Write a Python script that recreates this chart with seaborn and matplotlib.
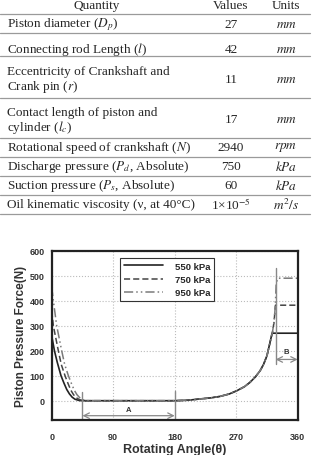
import matplotlib
matplotlib.use('Agg')
import matplotlib.pyplot as plt
import seaborn as sns
from matplotlib.lines import Line2D

# Table data
quantities = [
    ['Piston diameter ($D_p$)'],
    ['Connecting rod Length ($l$)'],
    ['Eccentricity of Crankshaft and', 'Crank pin ($r$)'],
    ['Contact length of piston and', 'cylinder ($l_c$)'],
    ['Rotational speed of crankshaft ($N$)'],
    ['Discharge pressure ($P_d$, Absolute)'],
    ['Suction pressure ($P_s$, Absolute)'],
    ['Oil kinematic viscosity (ν, at 40°C)'],
]
values = ['27', '42', '11', '17', '2940', '750', '60', '1×10$^{-5}$']
units = ['$mm$', '$mm$', '$mm$', '$mm$', '$rpm$', '$kPa$', '$kPa$', '$m^2/s$']

# Curve data (angle in degrees, force in N)
labels = ['550 kPa', '750 kPa', '950 kPa']
angle_550 = [0, 4, 8, 13.6, 18, 22, 26, 30, 34, 40, 44,
             180, 200, 217, 232, 246, 260, 271, 282, 290, 298, 305, 310, 315, 319.5, 322.5, 360]
force_550 = [260, 200, 155, 100, 70, 45, 27, 14, 6, 1, 0,
             0, 2, 7, 11, 17, 27, 40, 56, 73, 95, 120, 145, 180, 233, 270, 270]
angle_750 = [0, 2.4, 9.7, 14, 19.5, 24, 28, 32, 36, 40, 46,
             180, 200, 217, 232, 246, 260, 271, 282, 290, 298, 305, 310, 315, 319.5, 323, 325.3, 327.5, 360]
force_750 = [360, 300, 200, 145, 100, 68, 42, 24, 12, 5, 0,
             0, 2, 7, 11, 17, 27, 40, 56, 73, 95, 120, 145, 180, 233, 273, 313, 382, 382]
angle_950 = [0, 2.4, 7.3, 14.6, 19, 24.4, 29, 33, 37, 41, 45, 50,
             180, 200, 217, 232, 246, 260, 271, 282, 290, 298, 305, 310, 315, 319.5, 323, 325.3, 327.3, 328.5, 331, 360]
force_950 = [455, 400, 300, 200, 145, 100, 68, 42, 24, 12, 5, 0,
             0, 2, 7, 11, 17, 27, 40, 56, 73, 95, 120, 145, 180, 233, 273, 313, 380, 470, 490, 490]

sns.set_style('white')
plt.rcParams['font.family'] = ['Liberation Serif', 'DejaVu Serif']
plt.rcParams['mathtext.fontset'] = 'stix'

W, H = 313, 456
fig = plt.figure(figsize=(W / 100, H / 100), dpi=100)


def fy(py):
    return 1 - py / H


# --- table ---
fs = 9.5
qx, vx, ux = 7 / W, 231 / W, 286 / W
fig.text(97 / W, fy(6), 'Quantity', ha='center', va='center', fontsize=fs)
fig.text(vx, fy(6), 'Values', ha='center', va='center', fontsize=fs)
fig.text(ux, fy(6), 'Units', ha='center', va='center', fontsize=fs)

row_lines = [15, 34, 57, 99, 139, 158, 177, 196, 215]
for py in row_lines:
    fig.add_artist(Line2D([0, 310 / W], [fy(py), fy(py)], color='#9a9a9a', lw=0.9))

row_text_y = [[25], [50], [72, 87], [113, 128], [148], [167], [186], [205]]
row_val_y = [25, 50, 80, 120, 148, 167, 186, 205]
for q, ty, vy, v, u in zip(quantities, row_text_y, row_val_y, values, units):
    for line, py in zip(q, ty):
        fig.text(qx, fy(py), line, ha='left', va='center', fontsize=fs)
    fig.text(vx, fy(vy), v, ha='center', va='center', fontsize=fs)
    fig.text(ux, fy(vy), u, ha='center', va='center', fontsize=fs)

# --- chart ---
left, right, top, bottom = 51.7, 297.7, 251.7, 420.7
ax = fig.add_axes([left / W, fy(bottom), (right - left) / W, (bottom - top) / H])

sans = ['Liberation Sans', 'DejaVu Sans']
sns.lineplot(x=angle_550, y=force_550, ax=ax, color='#222222', lw=1.2,
             estimator=None, sort=False, label=labels[0])
sns.lineplot(x=angle_750, y=force_750, ax=ax, color='#444444', lw=1.1,
             estimator=None, sort=False, label=labels[1])
sns.lineplot(x=angle_950, y=force_950, ax=ax, color='#7a7a7a', lw=1.1,
             estimator=None, sort=False, label=labels[2])
ax.lines[1].set_dashes((4, 2))
ax.lines[2].set_dashes((6, 2, 1, 2, 1, 2))

ax.set_xlim(0, 360)
ax.set_ylim(-76, 600)
ax.set_xticks([0, 90, 180, 270, 360])
ax.set_yticks([0, 100, 200, 300, 400, 500, 600])
ax.grid(True, color='#bbbbbb', linestyle=':', lw=0.8)
ax.set_axisbelow(True)
for s in ax.spines.values():
    s.set_color('#222222')
    s.set_linewidth(1.6)
ax.tick_params(axis='x', length=0, pad=9)
ax.tick_params(axis='y', length=0, pad=5)
for t in ax.get_xticklabels() + ax.get_yticklabels():
    t.set_family(sans)
    t.set_fontweight('bold')
    t.set_fontsize(6.5)
    t.set_color('#333333')
ax.set_xlabel('Rotating Angle(θ)', family=sans, fontweight='bold', fontsize=9, color='#333333', labelpad=1)
ax.set_ylabel('Piston Pressure Force(N)', family=sans, fontweight='bold', fontsize=8.5, color='#333333', labelpad=2)

# markers A and B
gray = '#888888'
ax.plot([45, 45], [35, -76], color=gray, lw=1.0)
ax.plot([180, 180], [40, -76], color=gray, lw=1.0)
ax.annotate('', xy=(45, -60), xytext=(180, -60),
            arrowprops=dict(arrowstyle='<->', color=gray, lw=0.9, shrinkA=0, shrinkB=0))
ax.text(112, -35, 'A', ha='center', va='center', family=sans, fontweight='bold', fontsize=5.5, color='#333333')
ax.plot([327.6, 327.6], [530, 147], color=gray, lw=1.0)
ax.annotate('', xy=(327.6, 165), xytext=(360, 165),
            arrowprops=dict(arrowstyle='<->', color=gray, lw=0.9, shrinkA=0, shrinkB=0))
ax.text(343, 197, 'B', ha='center', va='center', family=sans, fontweight='bold', fontsize=5.5, color='#333333')

leg = ax.legend(loc='upper left', bbox_to_anchor=(0.258, 0.985), frameon=True, fancybox=False,
                framealpha=1, edgecolor='#333333', handlelength=4.2, borderpad=0.4,
                labelspacing=0.45, handletextpad=1.2, prop={'family': sans, 'weight': 'bold', 'size': 6.8})
leg.get_frame().set_linewidth(0.8)

fig.savefig('out.png', dpi=100)
